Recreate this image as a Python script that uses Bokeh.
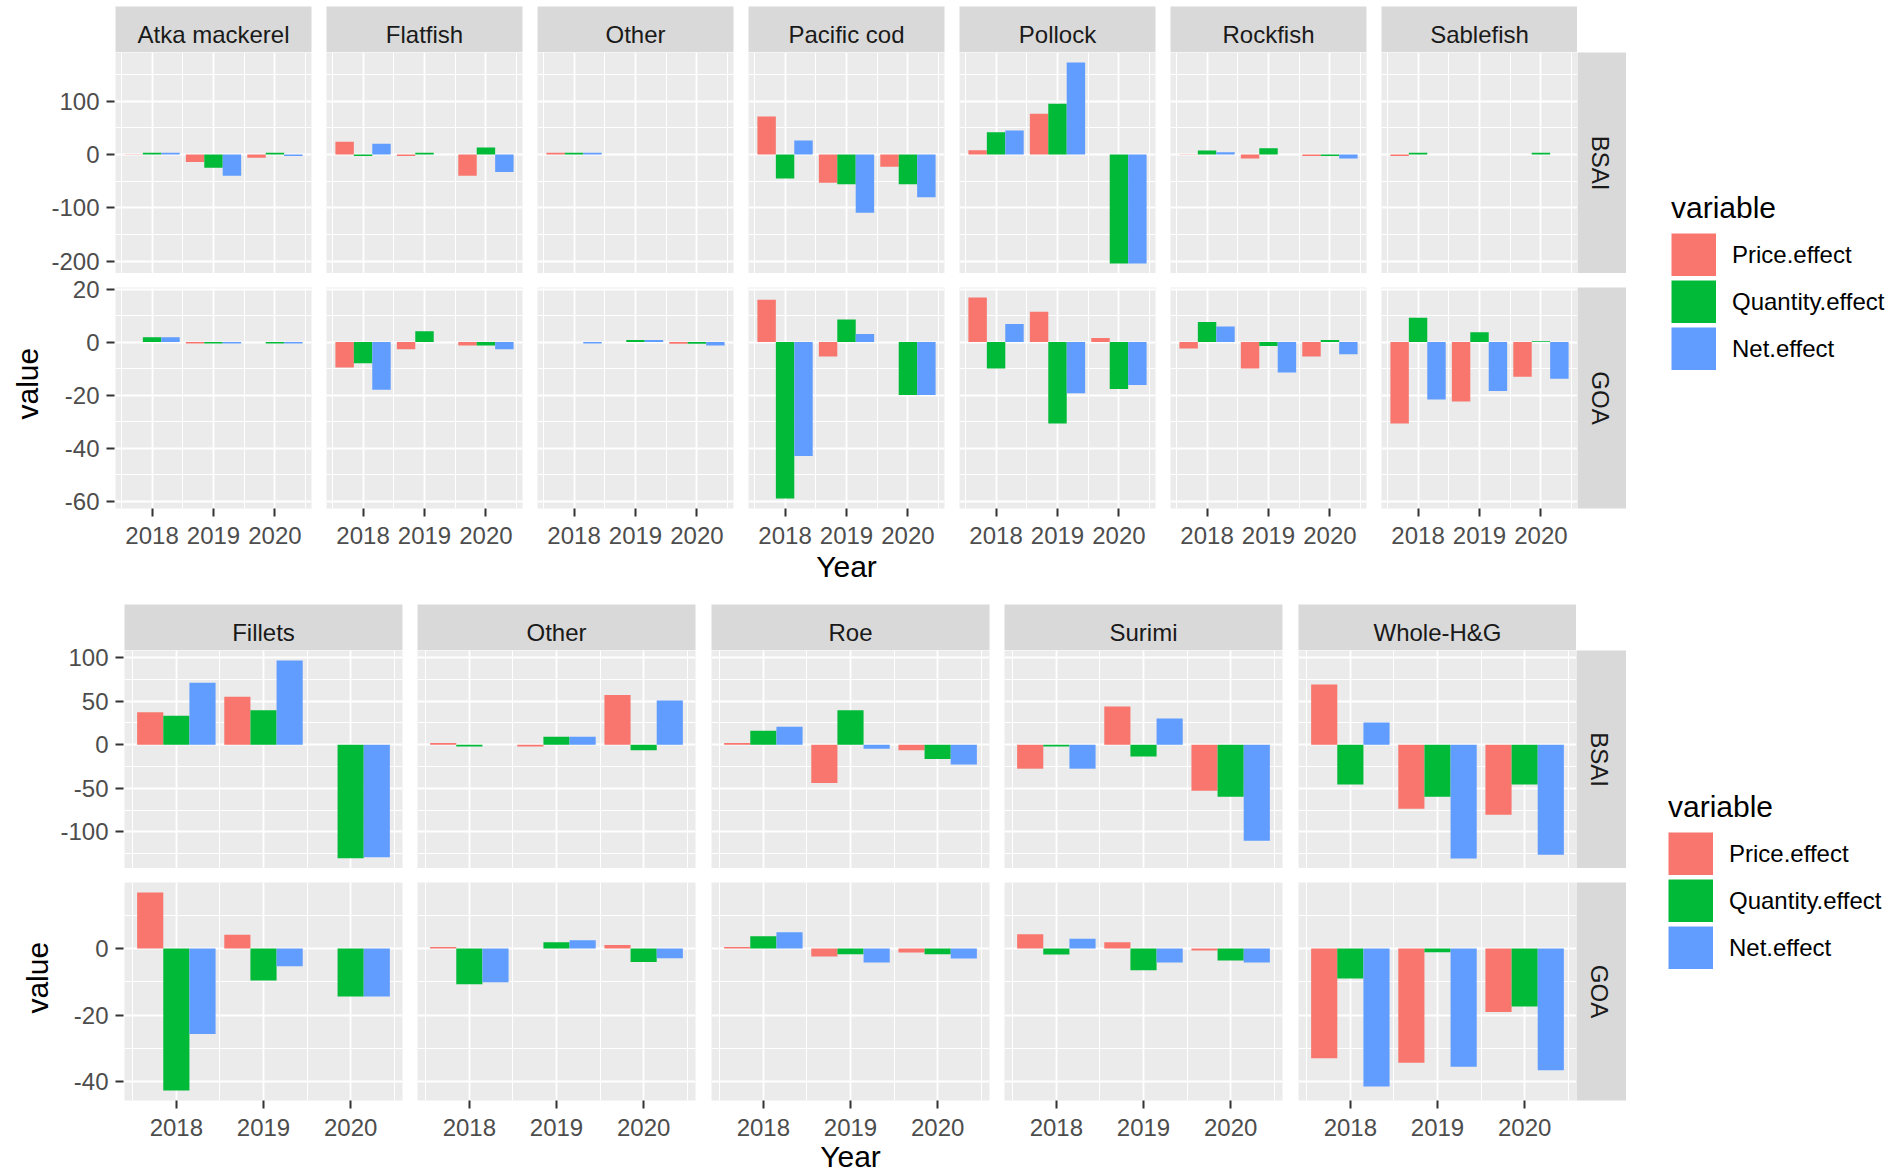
import math
from bokeh.plotting import figure
from bokeh.models import (Range1d, LinearAxis, Grid, FixedTicker, ColumnDataSource,
                          Legend, LegendItem, PrintfTickFormatter)
from bokeh.layouts import row, column
from bokeh.transform import dodge
from bokeh.core.properties import value
from bokeh.embed import file_html
from bokeh.resources import INLINE

# ---------------- data ----------------
YEARS = [2018, 2019, 2020]
VARIABLES = ["Price.effect", "Quantity.effect", "Net.effect"]
REGIONS = ["BSAI", "GOA"]

SPECIES = ["Atka mackerel", "Flatfish", "Other", "Pacific cod", "Pollock", "Rockfish", "Sablefish"]
# values per species, for years 2018, 2019, 2020
sp_bsai_price = [[0.5, -14, -6], [24, -3, -40], [3, 0, 0], [71, -53, -23], [8, 76, 0], [0.5, -7.6, -3], [-3, 0, 0]]
sp_bsai_qty = [[3, -25, 3], [-3, 3, 13], [3, 0, 0], [-45, -56, -56], [41.5, 95, -204], [7.6, 11.8, -3], [3, 0, 3]]
sp_bsai_net = [[3, -40, -3], [20, 0, -33], [3, 0, 0], [26, -109, -80], [45, 172, -204], [4, 0, -7.6], [0, 0, 0]]
sp_goa_price = [[0, -0.5, 0], [-9.6, -2.7, -1.3], [0, 0, -0.6], [16, -5.4, 0], [16.8, 11.4, 1.5], [-2.4, -10, -5.4], [-30.7, -22.4, -13.1]]
sp_goa_qty = [[1.8, -0.5, -0.5], [-8, 4.1, -1.3], [0, 0.8, -0.6], [-59, 8.5, -20], [-10, -30.7, -17.7], [7.6, -1.5, 0.8], [9.2, 3.7, 0.3]]
sp_goa_net = [[1.8, -0.5, -0.5], [-18, 0, -2.7], [-0.5, 0.8, -1.3], [-43, 3, -20], [6.8, -19.3, -16.2], [5.9, -11.5, -4.6], [-21.7, -18.5, -13.8]]

PRODUCTS = ["Fillets", "Other", "Roe", "Surimi", "Whole-H&G"]
pr_bsai_price = [[37, 55, 0], [2, -2, 57], [2, -43.8, -6.4], [-27.5, 43.8, -52.8], [69, -73.4, -80.3]]
pr_bsai_qty = [[33, 39.5, -130], [-2, 9, -6.5], [16, 39.5, -16.3], [-2, -13.7, -59.7], [-45.5, -59.7, -45.5]]
pr_bsai_net = [[71, 96.5, -129], [0, 9, 50.6], [20.6, -4.7, -22.7], [-27.5, 30, -110], [25.3, -130.5, -126]]
pr_goa_price = [[16.9, 4.2, 0], [0.5, 0, 1.1], [0.5, -2.4, -1.2], [4.3, 1.9, -0.6], [-33, -34.3, -19.1]]
pr_goa_qty = [[-42.7, -9.6, -14.4], [-10.7, 1.9, -4], [3.7, -1.7, -1.7], [-1.8, -6.5, -3.6], [-9, -1.1, -17.4]]
pr_goa_net = [[-25.7, -5.3, -14.4], [-10.1, 2.5, -2.9], [4.9, -4.2, -3], [3, -4.2, -4.2], [-41.5, -35.5, -36.6]]

# axis ticks
sp_bsai_ticks = [100, 0, -100, -200]
sp_bsai_minor = [150, 50, -50, -150]
sp_goa_ticks = [20, 0, -20, -40, -60]
sp_goa_minor = [10, -10, -30, -50]
pr_bsai_ticks = [100, 50, 0, -50, -100]
pr_bsai_minor = [75, 25, -25, -75, -125]
pr_goa_ticks = [0, -20, -40]
pr_goa_minor = [10, -10, -30]
x_minor = [2017.5, 2018.5, 2019.5, 2020.5]

# ---------------- style ----------------
FONT = "Liberation Sans"
COLORS = ["#F8766D", "#00BA38", "#619CFF"]
PANEL_BG = "#EBEBEB"
STRIP_BG = "#D9D9D9"


def y_limits(*arrays):
    vals = [v for arr in arrays for r in arr for v in r] + [0]
    lo, hi = min(vals), max(vals)
    pad = 0.05 * (hi - lo)
    return lo - pad, hi + pad


def x_limits():
    lo, hi = min(YEARS) - 0.45, max(YEARS) + 0.45
    pad = 0.05 * (hi - lo)
    return lo - pad, hi + pad


def bare(w, h, xr, yr, bl=0, br=0, bt=0, bb=0, bg="white"):
    p = figure(width=w, height=h, x_range=xr, y_range=yr, toolbar_location=None,
               output_backend="svg", x_axis_location=None, y_axis_location=None,
               tools="", title=None)
    p.center = [c for c in p.center if not isinstance(c, Grid)]
    p.min_border_left = bl
    p.min_border_right = br
    p.min_border_top = bt
    p.min_border_bottom = bb
    p.background_fill_color = bg
    p.border_fill_color = "white"
    p.outline_line_color = None
    return p


def style_axis(ax, standoff):
    ax.axis_line_color = None
    ax.major_tick_line_color = "#333333"
    ax.major_tick_line_width = 2
    ax.major_tick_in = 0
    ax.major_tick_out = 8
    ax.minor_tick_line_color = None
    ax.major_label_text_font = FONT
    ax.major_label_text_font_size = "24px"
    ax.major_label_text_color = "#4D4D4D"
    ax.major_label_standoff = standoff


def panel(vals3, yr, fw, fh, br, bt, bb, yticks, yminor, xlabel=None, xlabel_standoff=3):
    xlo, xhi = x_limits()
    p = bare(fw + br, bt + fh + bb, Range1d(xlo, xhi), yr, br=br, bt=bt, bb=bb, bg=PANEL_BG)
    p.add_layout(Grid(dimension=0, ticker=FixedTicker(ticks=YEARS, minor_ticks=x_minor),
                      grid_line_color="white", grid_line_width=1.8,
                      minor_grid_line_color="white", minor_grid_line_width=1.1))
    p.add_layout(Grid(dimension=1, ticker=FixedTicker(ticks=yticks, minor_ticks=yminor),
                      grid_line_color="white", grid_line_width=1.8,
                      minor_grid_line_color="white", minor_grid_line_width=1.1))
    src = ColumnDataSource(dict(year=YEARS, price=vals3[0], qty=vals3[1], net=vals3[2]))
    for key, off, col in [("price", -0.3, COLORS[0]), ("qty", 0.0, COLORS[1]), ("net", 0.3, COLORS[2])]:
        p.vbar(x=dodge("year", off), top=key, bottom=0, width=0.3, source=src,
               fill_color=col, line_color=None)
    if bb > 0:
        ax = LinearAxis(ticker=FixedTicker(ticks=YEARS), formatter=PrintfTickFormatter(format="%d"))
        style_axis(ax, 10)
        if xlabel:
            ax.axis_label = xlabel
            ax.axis_label_text_font = FONT
            ax.axis_label_text_font_size = "30px"
            ax.axis_label_text_font_style = "normal"
            ax.axis_label_text_color = "black"
            ax.axis_label_standoff = xlabel_standoff
        p.add_layout(ax, "below")
    return p


def y_axis_fig(w, yr, fh, bt, bb, yticks):
    f = bare(w, bt + fh + bb, Range1d(0, 1), yr, bl=w - 1, bt=bt, bb=bb)
    ax = LinearAxis(ticker=FixedTicker(ticks=yticks), formatter=PrintfTickFormatter(format="%d"))
    style_axis(ax, 7)
    f.add_layout(ax, "left")
    return f


def strip(label, fw, br, bt, h):
    s = bare(fw + br, bt + h, Range1d(0, 1), Range1d(0, 1), br=br, bt=bt, bg=STRIP_BG)
    s.text(x=[0.5], y=[0.40], text=[label], text_align="center", text_baseline="middle",
           text_font=value(FONT), text_font_size="24px", text_color="#1A1A1A")
    return s


def side_strip(label, w, h, bt, bb):
    s = bare(w, h, Range1d(0, 1), Range1d(0, 1), bt=bt, bb=bb, bg=STRIP_BG)
    s.text(x=[0.46], y=[0.5], text=[label], text_align="center", text_baseline="middle",
           angle=-math.pi / 2, text_font=value(FONT), text_font_size="24px", text_color="#1A1A1A")
    return s


def label_fig(w, h, txt, tx, ty, angle=0.0):
    f = bare(w, h, Range1d(0, w), Range1d(h, 0))
    f.text(x=[tx], y=[ty], text=[txt], text_align="center", text_baseline="middle", angle=angle,
           text_font=value(FONT), text_font_size="30px", text_color="black")
    return f


def legend_fig(w, h, bl, bt):
    f = bare(w, h, Range1d(0, 1), Range1d(0, 1), bl=bl, bt=bt)
    items = []
    for lbl, col in zip(VARIABLES, COLORS):
        r = f.line(x=[-20, -19], y=[0.5, 0.5], line_width=43, line_color=col, line_cap="butt")
        items.append(LegendItem(label=lbl, renderers=[r]))
    leg = Legend(items=items, location="top_left", title="variable",
                 title_text_font=FONT, title_text_font_size="30px", title_text_font_style="normal",
                 title_text_color="black", title_standoff=8,
                 label_text_font=FONT, label_text_font_size="24px", label_text_color="black",
                 glyph_width=45, glyph_height=43, label_height=43, label_standoff=16, spacing=4,
                 padding=0, margin=0, border_line_color=None, background_fill_alpha=0)
    f.add_layout(leg)
    return f


def grid_block(cats, bsai3, goa3, bsai_t, bsai_m, goa_t, goa_m, fw, gaps, axis_w, top_pad,
               strip_h, bsai_h, gap_h, goa_h, bottom_h, mid_col, xlabel_standoff,
               value_w, value_xy, rs_w, leg_w, leg_bl, leg_bt):
    yr_b = Range1d(*y_limits(*bsai3))
    yr_g = Range1d(*y_limits(*goa3))
    total_h = top_pad + strip_h + bsai_h + gap_h + goa_h + bottom_h
    vfig = label_fig(value_w, total_h, "value", value_xy[0], value_xy[1], angle=math.pi / 2)
    ax_b = y_axis_fig(axis_w, yr_b, bsai_h, top_pad + strip_h, 2, bsai_t)
    ax_g = y_axis_fig(axis_w, yr_g, goa_h, gap_h - 2, bottom_h, goa_t)
    children = [vfig, column(ax_b, ax_g, spacing=0)]
    n = len(cats)
    for i, cat in enumerate(cats):
        br = gaps[i] if i < n - 1 else 0
        vb = [bsai3[0][i], bsai3[1][i], bsai3[2][i]]
        vg = [goa3[0][i], goa3[1][i], goa3[2][i]]
        s = strip(cat, fw, br, top_pad, strip_h)
        pb = panel(vb, yr_b, fw, bsai_h, br, 0, 0, bsai_t, bsai_m)
        pg = panel(vg, yr_g, fw, goa_h, br, gap_h, bottom_h, goa_t, goa_m,
                   xlabel="Year" if i == mid_col else None, xlabel_standoff=xlabel_standoff)
        children.append(column(s, pb, pg, spacing=0))
    rs1 = side_strip(REGIONS[0], rs_w, top_pad + strip_h + bsai_h, top_pad + strip_h, 0)
    rs2 = side_strip(REGIONS[1], rs_w, gap_h + goa_h + bottom_h, gap_h, bottom_h)
    children.append(column(rs1, rs2, spacing=0))
    children.append(legend_fig(leg_w, total_h, leg_bl, leg_bt))
    return row(*children, spacing=0)


top = grid_block(SPECIES, [sp_bsai_price, sp_bsai_qty, sp_bsai_net], [sp_goa_price, sp_goa_qty, sp_goa_net],
                 sp_bsai_ticks, sp_bsai_minor, sp_goa_ticks, sp_goa_minor,
                 fw=196, gaps=[15] * 6, axis_w=67, top_pad=6,
                 strip_h=46, bsai_h=221, gap_h=14, goa_h=221, bottom_h=96, mid_col=3, xlabel_standoff=3,
                 value_w=48, value_xy=(27, 281), rs_w=49, leg_w=265, leg_bl=45, leg_bt=191)

bottom = grid_block(PRODUCTS, [pr_bsai_price, pr_bsai_qty, pr_bsai_net], [pr_goa_price, pr_goa_qty, pr_goa_net],
                    pr_bsai_ticks, pr_bsai_minor, pr_goa_ticks, pr_goa_minor,
                    fw=278, gaps=[15, 16, 15, 16], axis_w=68, top_pad=0,
                    strip_h=46, bsai_h=218, gap_h=14, goa_h=218, bottom_h=76, mid_col=2, xlabel_standoff=1,
                    value_w=56, value_xy=(37, 277.5), rs_w=50, leg_w=265, leg_bl=42, leg_bt=186)

layout = column(top, bottom, spacing=0)

open("out.html", "w").write(file_html(layout, INLINE))
